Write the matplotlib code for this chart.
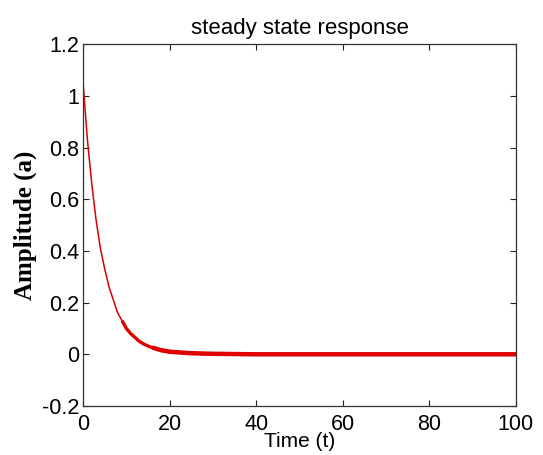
import matplotlib
matplotlib.use("Agg")
import matplotlib.pyplot as plt

# values
time_t = [0, 1, 2, 3, 4, 5, 6, 7, 8, 9, 10, 11, 12, 13, 14, 15, 16, 18, 20,
          25, 30, 40, 60, 80, 100]
amplitude = [1.05, 0.83, 0.66, 0.52, 0.41, 0.33, 0.26, 0.21, 0.16, 0.13, 0.10,
             0.08, 0.065, 0.05, 0.04, 0.032, 0.026, 0.016, 0.01,
             0.004, 0.002, 0.0, 0.0, 0.0, 0.0]

x_ticks = [0, 20, 40, 60, 80, 100]
y_ticks = [-0.2, 0, 0.2, 0.4, 0.6, 0.8, 1, 1.2]
y_tick_labels = ["-0.2", "0", "0.2", "0.4", "0.6", "0.8", "1", "1.2"]

plt.rcParams["font.family"] = ["Liberation Sans", "DejaVu Sans"]

fig = plt.figure(figsize=(5.43, 4.55), dpi=100)
ax = fig.add_axes([0.153, 0.1077, 0.797, 0.7953])

ax.plot(time_t, amplitude, color="#d80000", lw=1.1)
# the trace thickens as it settles
tail = [i for i, t in enumerate(time_t) if t >= 9]
ax.plot([time_t[i] for i in tail], [amplitude[i] for i in tail],
        color="#e00000", lw=2.4, solid_capstyle="butt")
tail2 = [i for i, t in enumerate(time_t) if t >= 16]
ax.plot([time_t[i] for i in tail2], [amplitude[i] for i in tail2],
        color="#e00000", lw=3.2, solid_capstyle="butt")

ax.set_xlim(0, 100)
ax.set_ylim(-0.2, 1.2)
ax.set_xticks(x_ticks)
ax.set_yticks(y_ticks)
ax.set_yticklabels(y_tick_labels)
ax.tick_params(direction="in", length=4, width=0.8, top=True, right=True,
               labelsize=15.5, pad=3, colors="#222222", labelcolor="black")
ax.tick_params(axis="x", pad=5.5)
for s in ax.spines.values():
    s.set_linewidth(0.9)
    s.set_color("#333333")

ax.set_title("steady state response", fontsize=16, pad=7)
ax.set_xlabel("Time (t)", fontsize=15, labelpad=-2)
ax.set_ylabel("Amplitude (a)", fontsize=18, fontweight="bold",
              family=["Liberation Serif", "DejaVu Serif"], labelpad=3)

fig.savefig("out.png", dpi=100)
